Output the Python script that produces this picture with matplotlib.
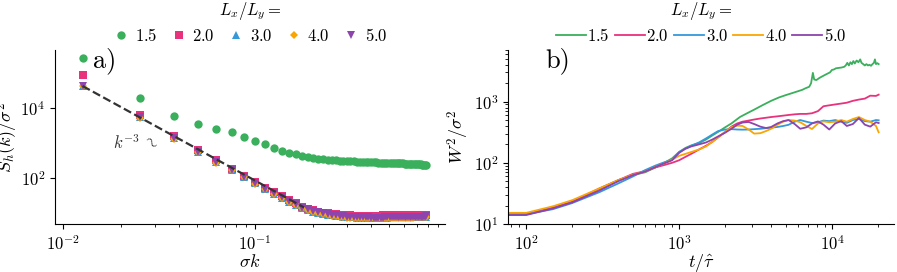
import numpy as np
import matplotlib
matplotlib.use("Agg")
import matplotlib.pyplot as plt
from matplotlib.ticker import NullLocator

plt.rcParams["font.family"] = "serif"
plt.rcParams["font.serif"] = ["cmr10"]
plt.rcParams["mathtext.fontset"] = "cm"
plt.rcParams["axes.formatter.use_mathtext"] = True
plt.rcParams["axes.unicode_minus"] = False
plt.rcParams["font.size"] = 12

ratios = ["1.5", "2.0", "3.0", "4.0", "5.0"]
colors = ["#3aaf5c", "#e8327c", "#3498db", "#f9a602", "#8e44ad"]
markers = ["o", "s", "^", "D", "v"]
msizes = [6, 5.5, 6, 4.5, 6]

# ---- panel a: height spectrum
k = [0.0126, 0.0251, 0.0377, 0.0503, 0.0628, 0.0754, 0.0880, 0.1005, 0.1131, 0.1257,
     0.1382, 0.1508, 0.1634, 0.1759, 0.1885, 0.2011, 0.2136, 0.2262, 0.2388, 0.2513,
     0.2639, 0.2765, 0.2890, 0.3016, 0.3142, 0.3267, 0.3393, 0.3519, 0.3644, 0.3770,
     0.3896, 0.4021, 0.4147, 0.4273, 0.4398, 0.4524, 0.4650, 0.4775, 0.4901, 0.5027,
     0.5152, 0.5278, 0.5404, 0.5529, 0.5655, 0.5781, 0.5906, 0.6032, 0.6158, 0.6283,
     0.6409, 0.6535, 0.6660, 0.6786, 0.6912, 0.7037, 0.7163, 0.7288, 0.7414, 0.7540,
     0.7665, 0.7791]

S_15 = [270000, 19000, 6000, 3400, 2550, 1980, 1520, 1140, 910, 720,
        600, 530, 475, 425, 395, 370, 350, 338, 328, 320,
        315, 310, 307, 305, 302, 298, 294, 290, 287, 285,
        282, 280, 278, 276, 275, 274, 273, 272, 270, 268,
        266, 264, 262, 262, 263, 264, 262, 258, 255, 252,
        250, 248, 246, 246, 250, 252, 248, 244, 240, 238,
        238, 236]
S_20 = [88000, 6300, 1600, 620, 315, 185, 116, 77, 52, 39,
        30, 23, 18.7, 15.3, 13.4, 12.0, 11.0, 10.3, 9.8, 9.4,
        9.1, 8.9, 8.7, 8.6, 8.5, 8.45, 8.4, 8.4, 8.4, 8.4,
        8.4, 8.4, 8.4, 8.45, 8.45, 8.45, 8.5, 8.5, 8.5, 8.5,
        8.55, 8.55, 8.6, 8.6, 8.6, 8.65, 8.65, 8.7, 8.7, 8.75,
        8.75, 8.8, 8.8, 8.85, 8.85, 8.9, 8.9, 8.95, 8.95, 9.0,
        9.0, 9.0]
S_30 = [41500, 5450, 1350, 550, 280, 166, 106, 70.5, 48, 35.7,
        27.5, 21, 17.1, 14.0, 12.3, 11.0, 10.1, 9.45, 8.95, 8.55,
        8.25, 7.95, 7.75, 7.6, 7.5, 7.45, 7.4, 7.4, 7.35, 7.35,
        7.35, 7.35, 7.35, 7.35, 7.35, 7.4, 7.4, 7.4, 7.4, 7.45,
        7.45, 7.45, 7.5, 7.5, 7.5, 7.55, 7.55, 7.6, 7.6, 7.6,
        7.65, 7.65, 7.7, 7.7, 7.75, 7.75, 7.8, 7.8, 7.85, 7.85,
        7.9, 7.9]
S_40 = [41000, 5300, 1320, 540, 275, 163, 104, 69, 47, 35,
        27, 20.5, 16.7, 13.7, 12.0, 10.8, 9.9, 9.2, 8.7, 8.3,
        8.0, 7.7, 7.5, 7.35, 7.25, 7.2, 7.15, 7.1, 7.1, 7.1,
        7.1, 7.1, 7.1, 7.1, 7.1, 7.1, 7.15, 7.15, 7.15, 7.2,
        7.2, 7.2, 7.25, 7.25, 7.25, 7.3, 7.3, 7.3, 7.35, 7.35,
        7.4, 7.4, 7.4, 7.45, 7.45, 7.5, 7.5, 7.5, 7.55, 7.55,
        7.6, 7.6]
S_50 = [42000, 5600, 1380, 560, 285, 170, 108, 72, 49, 36.5,
        28, 21.5, 17.5, 14.3, 12.6, 11.3, 10.4, 9.7, 9.2, 8.8,
        8.5, 8.2, 8.0, 7.8, 7.7, 7.6, 7.55, 7.5, 7.5, 7.45,
        7.45, 7.4, 7.4, 7.4, 7.4, 7.4, 7.4, 7.45, 7.45, 7.45,
        7.5, 7.5, 7.5, 7.5, 7.55, 7.55, 7.6, 7.6, 7.6, 7.65,
        7.65, 7.7, 7.7, 7.75, 7.75, 7.8, 7.8, 7.85, 7.85, 7.9,
        7.9, 7.95]
spectra = [S_15, S_20, S_30, S_40, S_50]

# k^-3 guide
k_guide = [0.0126, 0.18]
guide_amp = 42000
guide_exp = -3

# ---- panel b: roughness vs time
t_15 = [76, 100, 150, 200, 300, 400, 500, 600, 700, 800, 900, 1000, 1100, 1200, 1350,
        1500, 1650, 1800, 2000, 2200, 2500, 2800, 3100, 3500, 4000, 4500, 5000, 5500,
        6000, 6400, 6700, 7100, 7300, 7500, 7650, 7900, 8300, 8800, 9300, 9700, 10000,
        10300, 10600, 11000, 11500, 12000, 12300, 12600, 12900, 13200, 13500, 13800,
        14100, 14500, 14900, 15300, 15600, 16000, 16400, 16800, 17200, 17600, 18000,
        18400, 18800, 19100, 19400, 19800, 20200]
W_15 = [14.4, 14.4, 18.5, 23, 37, 52, 63, 70, 84, 100, 118, 150, 175, 192, 210,
        240, 280, 320, 380, 440, 560, 650, 740, 870, 1030, 1170, 1280, 1380,
        1480, 1560, 1650, 1750, 2000, 2950, 2300, 2250, 2450, 2650, 2850, 3000, 3300,
        3350, 3500, 3550, 3600, 3700, 3900, 4300, 3900, 4400, 4100, 4600,
        4200, 4700, 4400, 4900, 4300, 4100, 3900, 4100, 3900, 4000, 3850,
        4100, 4300, 4900, 4100, 4250, 4100]

t = [76, 100, 150, 200, 300, 400, 500, 600, 700, 800, 900, 1000, 1100, 1200, 1350,
     1500, 1650, 1800, 2000, 2200, 2400, 2600, 2850, 3100, 3400, 3700, 4000, 4400,
     4800, 5200, 5700, 6200, 6800, 7400, 8100, 8800, 9600, 10500, 11500, 12500,
     13700, 15000, 16400, 17800, 19400, 20200]
W_20 = [14.6, 14.6, 18.5, 23, 38, 52, 66, 73, 84, 92, 100, 110, 125, 140, 165,
        190, 220, 260, 320, 390, 440, 470, 490, 510, 530, 545, 560, 575,
        590, 605, 620, 630, 630, 645, 700, 840, 870, 900, 930, 960,
        1030, 1080, 1120, 1250, 1240, 1300]
W_30 = [14.4, 14.4, 17.5, 22, 33, 46, 60, 76, 90, 102, 112, 150, 170, 190, 215,
        250, 290, 330, 350, 355, 350, 348, 350, 355, 360, 368, 375, 385,
        400, 418, 470, 500, 470, 447, 460, 490, 480, 500, 470, 450,
        500, 520, 480, 470, 500, 495]
W_40 = [15.2, 15.2, 19.5, 24.5, 38, 52, 64, 72, 85, 98, 112, 130, 140, 150, 165,
        185, 220, 260, 320, 380, 405, 400, 350, 300, 305, 330, 360, 420,
        470, 500, 490, 460, 400, 357, 440, 476, 460, 470, 500, 470,
        520, 560, 500, 470, 400, 315]
W_50 = [14.0, 14.0, 18.0, 22.5, 35, 50, 63, 72, 85, 98, 110, 145, 170, 185, 200,
        215, 240, 270, 310, 360, 420, 455, 465, 430, 390, 370, 385, 440,
        480, 500, 430, 360, 380, 440, 475, 420, 350, 440, 480, 400,
        430, 540, 420, 390, 460, 447]
times = [t_15, t, t, t, t]
widths = [W_15, W_20, W_30, W_40, W_50]

fig = plt.figure(figsize=(8.97, 2.72), dpi=100)
ax1 = fig.add_axes([0.0613, 0.1765, 0.435, 0.64])
ax2 = fig.add_axes([0.5663, 0.1765, 0.4305, 0.64])

for S, c, m, ms, lab in zip(spectra, colors, markers, msizes, ratios):
    ax1.plot(k, S, linestyle="none", marker=m, color=c, markersize=ms,
             markeredgewidth=0, label="$" + lab + "$")
k_g = np.array(k_guide)
ax1.plot(k_g, guide_amp * (k_g / k_g[0]) ** guide_exp, "--", color="#333333",
         lw=1.6, zorder=5)
ax1.set_xscale("log")
ax1.set_yscale("log")
ax1.set_xlim(0.00905, 0.98)
ax1.set_ylim(4.85, 4.5e5)
ax1.set_yticks([1e2, 1e4])
ax1.yaxis.set_minor_locator(NullLocator())
ax1.set_xlabel(r"$\sigma k$", fontsize=13, labelpad=0)
ax1.set_ylabel(r"$S_h(k)/\sigma^2$", fontsize=13, labelpad=0)
ax1.text(0.128, 0.94, "a)", transform=ax1.transAxes, fontsize=19,
         ha="center", va="center")
ax1.text(0.0215, 1000, r"$k^{-3}$", fontsize=12, ha="center", va="center",
         color="#333333")
ax1.text(0.0292, 1230, r"$\sim$", fontsize=12, ha="center", va="center",
         rotation=-45, color="#333333")
ax1.legend(ncol=5, loc="lower center", bbox_to_anchor=(0.5, 0.986), frameon=False,
           title=r"$L_x/L_y =$", title_fontsize=12, fontsize=12,
           handlelength=1.0, handletextpad=0.3, columnspacing=0.8,
           borderaxespad=0.1, labelspacing=0.3)

for tt, W, c, lab in zip(times, widths, colors, ratios):
    ax2.plot(tt, W, color=c, lw=1.3, label="$" + lab + "$")
ax2.set_xscale("log")
ax2.set_yscale("log")
ax2.set_xlim(76, 25500)
ax2.set_ylim(10, 7000)
ax2.set_xlabel(r"$t/\hat{\tau}$", fontsize=13, labelpad=0)
ax2.set_ylabel(r"$W^2/\sigma^2$", fontsize=13, labelpad=2)
ax2.text(0.13, 0.937, "b)", transform=ax2.transAxes, fontsize=19,
         ha="center", va="center")
ax2.legend(ncol=5, loc="lower center", bbox_to_anchor=(0.5, 0.986), frameon=False,
           title=r"$L_x/L_y =$", title_fontsize=12, fontsize=12,
           handlelength=1.8, handletextpad=0.1, columnspacing=0.3,
           borderaxespad=0.1, labelspacing=0.3)

for ax in (ax1, ax2):
    ax.spines["top"].set_visible(False)
    ax.spines["right"].set_visible(False)

fig.savefig("out.png", dpi=100)
